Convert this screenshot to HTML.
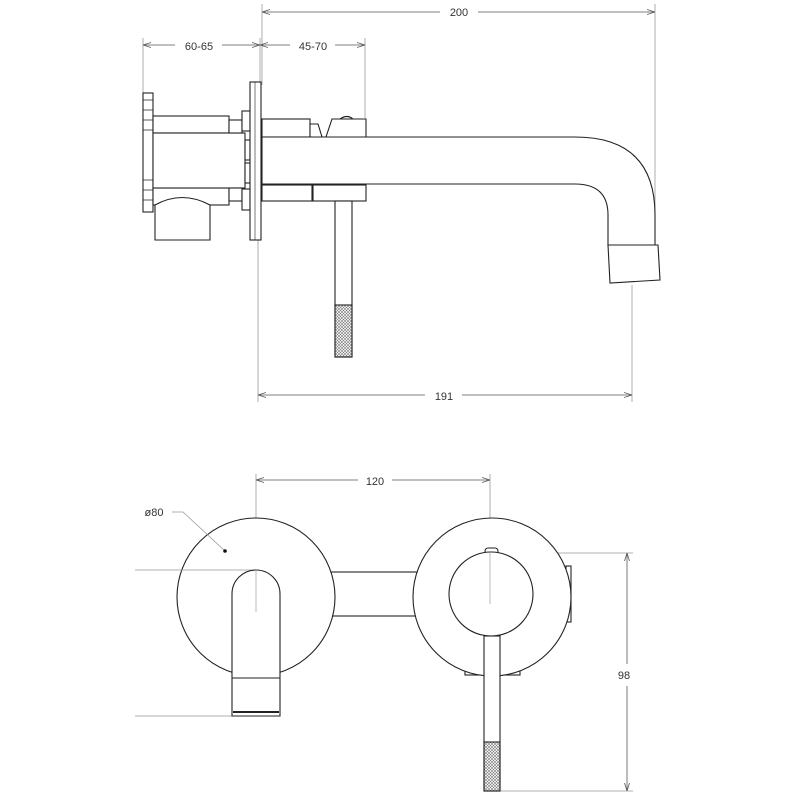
<!DOCTYPE html>
<html><head><style>html,body{margin:0;padding:0;background:#fff}svg{display:block}</style></head><body>
<svg width="800" height="800" viewBox="0 0 800 800" xmlns="http://www.w3.org/2000/svg" font-family="Liberation Sans, sans-serif">
<defs>
<marker id="a" markerWidth="8" markerHeight="6" refX="8" refY="3" orient="auto-start-reverse" markerUnits="userSpaceOnUse"><path d="M0,0.5 L8,3 L0,5.5" fill="none" stroke="#555" stroke-width="0.8"/></marker>
<pattern id="h" width="3" height="3" patternUnits="userSpaceOnUse"><path d="M0,0 L3,3 M3,0 L0,3" stroke="#777" stroke-width="0.6"/></pattern>
</defs>
<g stroke="#999" stroke-width="0.8" fill="none">
<line x1="262" y1="4" x2="262" y2="85"/><line x1="655" y1="4" x2="655" y2="245"/>
<line x1="143" y1="38" x2="143" y2="95"/><line x1="260" y1="38" x2="260" y2="82"/><line x1="365" y1="38" x2="365" y2="118"/>
<line x1="258" y1="200" x2="258" y2="402"/><line x1="632" y1="285" x2="632" y2="402"/>
<line x1="256" y1="474" x2="256" y2="612"/><line x1="490" y1="474" x2="490" y2="604"/>
<line x1="135" y1="716" x2="232" y2="716"/>
<line x1="498" y1="553" x2="633" y2="553"/><line x1="500" y1="791" x2="633" y2="791"/>
</g>
<g stroke="#555" stroke-width="0.8">
<line x1="262" y1="12" x2="440" y2="12" marker-start="url(#a)"/><line x1="478" y1="12" x2="655" y2="12" marker-end="url(#a)"/>
<line x1="143" y1="45" x2="175" y2="45" marker-start="url(#a)"/><line x1="222" y1="45" x2="260" y2="45" marker-end="url(#a)"/>
<line x1="260" y1="45" x2="290" y2="45" marker-start="url(#a)"/><line x1="335" y1="45" x2="365" y2="45" marker-end="url(#a)"/>
<line x1="258" y1="395" x2="425" y2="395" marker-start="url(#a)"/><line x1="462" y1="395" x2="632" y2="395" marker-end="url(#a)"/>
<line x1="256" y1="480" x2="358" y2="480" marker-start="url(#a)"/><line x1="392" y1="480" x2="490" y2="480" marker-end="url(#a)"/>
<line x1="627" y1="553" x2="627" y2="664" marker-start="url(#a)"/><line x1="627" y1="686" x2="627" y2="791" marker-end="url(#a)"/>
</g>
<g font-size="11" fill="#333" text-anchor="middle">
<text x="459" y="16">200</text><text x="199" y="50">60-65</text><text x="313" y="50">45-70</text>
<text x="444" y="400">191</text><text x="375" y="485">120</text><text x="624" y="679">98</text>
<text x="154" y="516">ø80</text>
</g>
<g stroke="#222" stroke-width="1.1" fill="#fff">
<rect x="143" y="93" width="10" height="119"/>
<path d="M143,100h10M143,110h10M143,120h10M143,130h10M143,180h10M143,190h10M143,200h10" stroke-width="0.7"/>
<rect x="153" y="116" width="76" height="17"/>
<rect x="153" y="188" width="76" height="17"/>
<path d="M155,240 V205 Q182,190 210,205 V240 Z"/>
<rect x="153" y="133" width="92" height="55"/>
<rect x="229" y="120" width="13" height="13"/><rect x="229" y="188" width="13" height="13"/>
<rect x="242" y="111" width="8" height="20"/><rect x="242" y="189" width="8" height="21"/>
<rect x="245" y="140" width="5" height="20"/><rect x="245" y="163" width="5" height="20"/>
<rect x="250" y="82" width="11" height="158"/>
<path d="M255,82V240" stroke-width="0.6"/>
<rect x="262" y="119" width="48" height="18"/>
<rect x="262" y="185" width="50" height="16"/>
<path d="M310,137 V124 H318 L322,137 Z M326,137 L332,119 H366 V137 Z"/>
<path d="M340,119 Q347,114 353,119" fill="none"/>
<rect x="313" y="185" width="53" height="16"/>
<path d="M262,137 H575 Q655,137 655,215 V245 H608 V215 Q608,184 575,184 H262 Z"/>
<path d="M608,245 H658 L660,280 L610,283 Z"/>
<rect x="335" y="201" width="17" height="156"/>
<rect x="335" y="305" width="17" height="52" fill="url(#h)"/>
<rect x="330" y="572" width="90" height="44"/>
<circle cx="256" cy="597" r="79"/>
<rect x="566" y="566" width="5" height="56"/>
<rect x="465" y="668" width="55" height="7"/>
<circle cx="492" cy="597" r="79"/>
<rect x="485" y="548" width="13" height="6" rx="3"/>
<circle cx="491" cy="594" r="42"/>
<rect x="484" y="636" width="16" height="155"/>
<rect x="484" y="742" width="16" height="49" fill="url(#h)"/>
</g>
<g stroke="#999" stroke-width="0.8" fill="none">
<line x1="135" y1="570" x2="256" y2="570"/>
<polyline points="172,512 183,512 225,551"/>
</g>
<g stroke="#222" stroke-width="1.1" fill="#fff">
<path d="M232,716 V594 A24,24 0 0 1 280,594 V716 Z"/>
<line x1="232" y1="678" x2="280" y2="678"/>
<path d="M233,712 H279" stroke-width="2"/>
</g>
<circle cx="225" cy="551" r="1.8" fill="#111"/>
<g stroke="#aaa" stroke-width="0.8"><line x1="256" y1="570" x2="256" y2="612"/><line x1="490" y1="553" x2="490" y2="604"/></g>
</svg>
</body></html>
